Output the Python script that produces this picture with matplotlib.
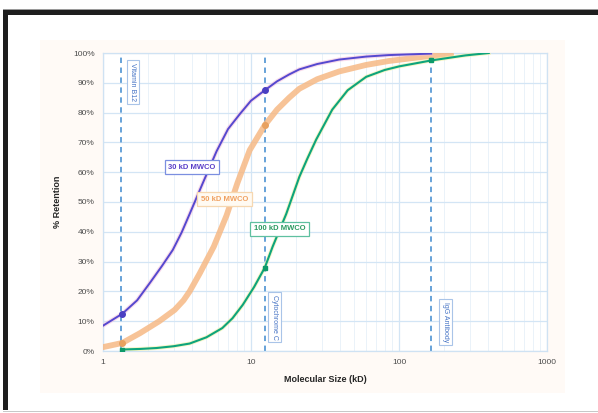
import numpy as np
import matplotlib.pyplot as plt
from matplotlib.patches import Rectangle
from matplotlib.ticker import FixedLocator, LogLocator, NullFormatter

# Data (molecular size in kD, retention in %)
size_30 = [1.0, 1.35, 1.7, 2.07, 2.5, 2.96, 3.4, 3.85, 4.71, 5.85, 7.0, 8.4, 10, 12.4, 15, 18.1, 21.2, 28,
           39.4, 60, 85, 165]
ret_30 = [8.5, 12.5, 17, 22.8, 28.5, 33.9, 39.8, 46, 56.2, 67, 74.5, 79.5, 84, 87.5, 90.5, 92.8, 94.5, 96.3,
          97.8, 98.8, 99.3, 99.8]

size_50 = [1.0, 1.35, 1.78, 2.4, 3.05, 3.5, 3.85, 4.5, 5.6, 6.84, 8.1, 9.8, 12.4, 15, 18.1, 21.2, 28, 39.4,
           60, 85, 150, 225]
ret_50 = [1.3, 2.7, 6, 10, 13.8, 17, 20, 26, 35, 45.5, 56.4, 67.4, 75.8, 81, 85, 88, 91.2, 93.8,
          96, 97.3, 98.8, 99.5]

size_100 = [1.35, 1.8, 2.3, 3.0, 3.85, 5.0, 6.4, 7.5, 8.8, 10.5, 12.4, 14, 17.3, 21.2, 24, 27.6, 35.4, 45,
            60, 80, 100, 165, 282, 404]
ret_100 = [0.5, 0.7, 1.0, 1.6, 2.5, 4.6, 7.7, 11, 15.5, 21.5, 28, 35, 46, 58.4, 64.5, 71, 81, 87.5,
           92, 94.3, 95.5, 97.5, 99.2, 100]

# marker points at the reference proteins
mark_30 = ([1.35, 12.4], [12.5, 87.5])
mark_50 = ([1.35, 12.4], [2.7, 75.8])
mark_100 = ([1.35, 12.4, 165], [0.5, 28, 97.5])

proteins = ["Vitamin B12", "Cytochrome C", "IgG Antibody"]
protein_size = [1.32, 12.4, 165]

yticks = list(range(0, 101, 10))
xticks = [1, 10, 100, 1000]

plt.rcParams['font.family'] = ['Liberation Sans', 'DejaVu Sans']

fig = plt.figure(figsize=(5.98, 4.13), dpi=100)

# page frame (drawn under the axes)
def frame_rect(x, y, w, h, color):
    fig.patches.append(Rectangle((x/598, 1-(y+h)/413), w/598, h/413, transform=fig.transFigure,
                                 facecolor=color, edgecolor='none', zorder=-5))

frame_rect(40, 40, 525, 353, '#fffaf6')
frame_rect(3, 10, 595, 5, '#1e1e1e')
frame_rect(3, 9, 595, 1.2, '#9a9a9a')
frame_rect(3, 10, 5, 400, '#1e1e1e')
frame_rect(3, 410.5, 595, 1.5, '#c8c8c8')

ax = fig.add_axes([103/598, 1-351/413, 444/598, 298/413])
ax.set_zorder(2)
ax.set_facecolor('white')
ax.set_xscale('log')
ax.set_xlim(1, 1000)
ax.set_ylim(0, 100)

ax.xaxis.set_major_locator(FixedLocator(xticks))
ax.xaxis.set_minor_locator(LogLocator(base=10, subs=np.arange(2, 10)))
ax.xaxis.set_minor_formatter(NullFormatter())
ax.set_xticks(xticks)
ax.set_xticklabels([str(v) for v in xticks])
ax.set_yticks(yticks)
ax.set_yticklabels([f"{v}%" for v in yticks])
ax.tick_params(which='both', length=0, labelsize=6, labelcolor='#4d4d4d', pad=6)

ax.grid(True, which='major', color='#d3e5f5', lw=0.9)
ax.grid(True, which='minor', axis='x', color='#e6f0f9', lw=0.6)
ax.set_axisbelow(True)
for s in ax.spines.values():
    s.set_color('#cfe2f3')
    s.set_linewidth(0.9)

# reference protein lines
for p in protein_size:
    ax.axvline(p, color='#5b9bd5', lw=1.3, dashes=(3, 2.5), zorder=2)

# curves
ax.plot(size_50, ret_50, color='#f6b985', lw=4.2, alpha=0.85, solid_capstyle='round', zorder=3)
ax.plot(size_30, ret_30, color='#f2b8d8', lw=3.0, alpha=0.5, zorder=3)
ax.plot(size_30, ret_30, color='#5548cf', lw=1.4, zorder=4)
ax.plot(size_100, ret_100, color='#f2f0a0', lw=2.8, alpha=0.6, zorder=3)
ax.plot(size_100, ret_100, color='#0ea47c', lw=1.5, zorder=4)

ax.plot(*mark_30, 'o', color='#4a3fc2', ms=4, zorder=5)
ax.plot(*mark_50, 'o', color='#e8a160', ms=4, zorder=5)
ax.plot(*mark_100, 's', color='#0d9a6a', ms=3.5, zorder=5)

# curve labels
ax.text(3.98, 61.7, "30 kD MWCO", fontsize=5.5, fontweight='bold', color='#5a3fc8', ha='center', va='center',
        bbox=dict(boxstyle='square,pad=0.45', fc='white', ec='#7b8fe0', lw=0.9), zorder=6)
ax.text(6.6, 51, "50 kD MWCO", fontsize=5.5, fontweight='bold', color='#f0a060', ha='center', va='center',
        bbox=dict(boxstyle='square,pad=0.5', fc='#fffaf2', ec='#f6d7b0', lw=0.9), zorder=6)
ax.text(15.6, 41, "100 kD MWCO", fontsize=5.5, fontweight='bold', color='#2a9a60', ha='center', va='center',
        bbox=dict(boxstyle='square,pad=0.45', fc='white', ec='#5fc0a0', lw=0.9), zorder=6)

# protein labels
label_pos = [(1.59, 90.3), (14.4, 11.4), (207, 9.7)]
for name, (lx, ly) in zip(proteins, label_pos):
    ax.text(lx, ly, name, fontsize=5, color='#4472c4', rotation=-90, ha='center', va='center',
            bbox=dict(boxstyle='square,pad=0.4', fc='white', ec='#a9c4e8', lw=0.8), zorder=6)

ax.set_xlabel("Molecular Size (kD)", fontsize=6.5, fontweight='bold', color='#262626', labelpad=6)
ax.set_ylabel("% Retention", fontsize=6.5, fontweight='bold', color='#262626', labelpad=8)

fig.savefig("out.png", dpi=100)
